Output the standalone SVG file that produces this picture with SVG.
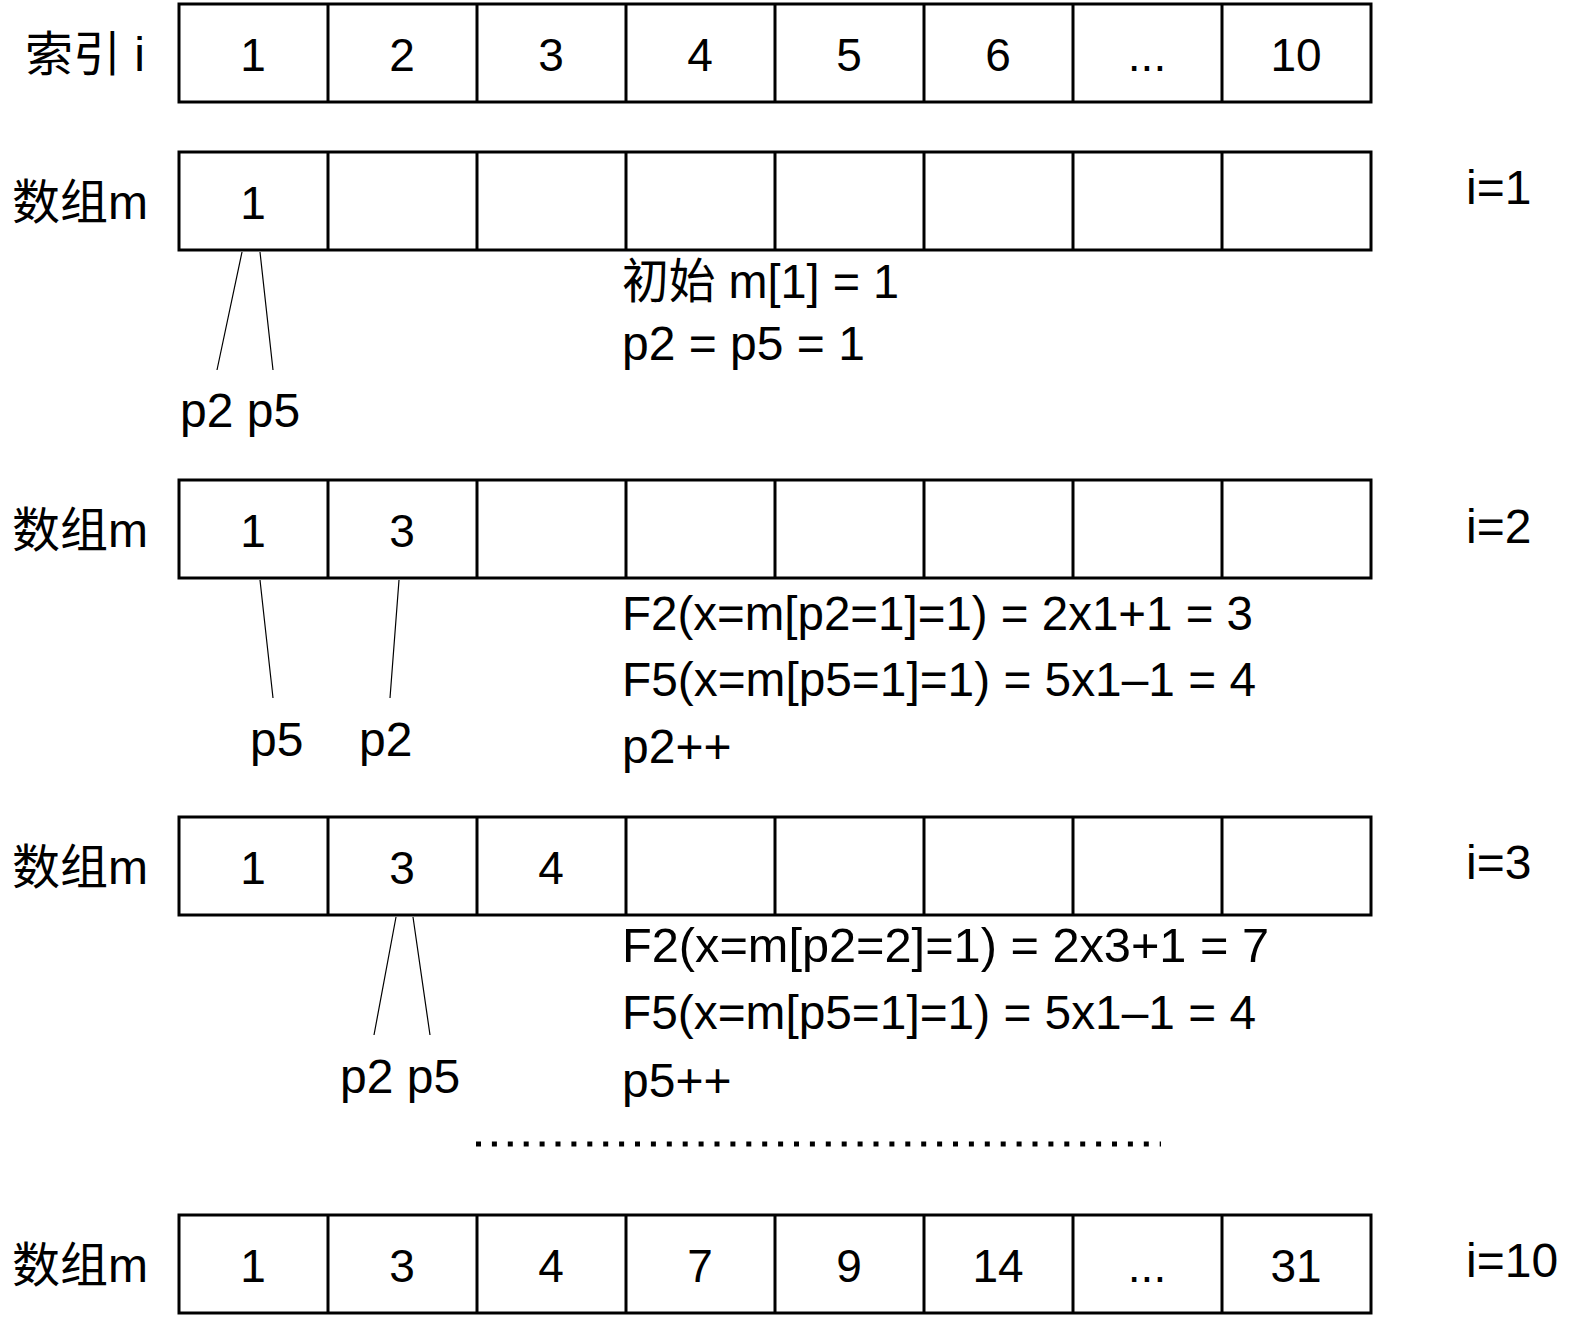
<svg xmlns="http://www.w3.org/2000/svg" width="1579" height="1325" viewBox="0 0 1579 1325">
<style>
.t{font-family:"Liberation Sans","Noto Sans CJK SC",Arial,sans-serif;font-size:48px;fill:#000}
.n{font-family:"Liberation Sans",Arial,sans-serif;font-size:46px;fill:#000;text-anchor:middle}
.box{fill:#fff;stroke:#000;stroke-width:3}
.dv{stroke:#000;stroke-width:3}
.ln{stroke:#000;stroke-width:1.2;fill:none}
</style>
<rect width="1579" height="1325" fill="#fff"/>
<defs>
<g id="row">
<rect class="box" x="179" y="0" width="1192" height="98"/>
<path class="dv" d="M328 0V98M477 0V98M626 0V98M775 0V98M924 0V98M1073 0V98M1222 0V98"/>
</g>
</defs>

<g id="index-row">
<use href="#row" transform="translate(0,4)"/>
<text class="t" x="25" y="71">索引 i</text>
<g class="n">
<text x="253" y="71">1</text><text x="402" y="71">2</text><text x="551" y="71">3</text><text x="700" y="71">4</text>
<text x="849" y="71">5</text><text x="998" y="71">6</text><text x="1147" y="71">...</text><text x="1296" y="71">10</text>
</g>
</g>

<g id="row-i1">
<use href="#row" transform="translate(0,152)"/>
<text class="t" x="12" y="219">数组m</text>
<text class="n" x="253" y="219">1</text>
<text class="t" x="1466" y="204">i=1</text>
<text class="t" x="180" y="427">p2 p5</text>
<text class="t" x="622" y="298" textLength="277" lengthAdjust="spacingAndGlyphs">初始 m[1] = 1</text>
<text class="t" x="622" y="360">p2 = p5 = 1</text>
</g>

<g id="row-i2">
<use href="#row" transform="translate(0,480)"/>
<text class="t" x="12" y="547">数组m</text>
<text class="n" x="253" y="547">1</text>
<text class="n" x="402" y="547">3</text>
<text class="t" x="1466" y="543">i=2</text>
<text class="t" x="250" y="756">p5</text>
<text class="t" x="359" y="756">p2</text>
<text class="t" x="622" y="630" textLength="631" lengthAdjust="spacingAndGlyphs">F2(x=m[p2=1]=1) = 2x1+1 = 3</text>
<text class="t" x="622" y="696" textLength="634" lengthAdjust="spacingAndGlyphs">F5(x=m[p5=1]=1) = 5x1–1 = 4</text>
<text class="t" x="622" y="763">p2++</text>
</g>

<g id="row-i3">
<use href="#row" transform="translate(0,817)"/>
<text class="t" x="12" y="884">数组m</text>
<text class="n" x="253" y="884">1</text>
<text class="n" x="402" y="884">3</text>
<text class="n" x="551" y="884">4</text>
<text class="t" x="1466" y="879">i=3</text>
<text class="t" x="340" y="1093">p2 p5</text>
<text class="t" x="622" y="962" textLength="647" lengthAdjust="spacingAndGlyphs">F2(x=m[p2=2]=1) = 2x3+1 = 7</text>
<text class="t" x="622" y="1029" textLength="634" lengthAdjust="spacingAndGlyphs">F5(x=m[p5=1]=1) = 5x1–1 = 4</text>
<text class="t" x="622" y="1097">p5++</text>
</g>

<g id="row-i10">
<use href="#row" transform="translate(0,1215)"/>
<text class="t" x="12" y="1282">数组m</text>
<g class="n">
<text x="253" y="1282">1</text><text x="402" y="1282">3</text><text x="551" y="1282">4</text><text x="700" y="1282">7</text>
<text x="849" y="1282">9</text><text x="998" y="1282">14</text><text x="1147" y="1282">...</text><text x="1296" y="1282">31</text>
</g>
<text class="t" x="1466" y="1277">i=10</text>
</g>

<g id="ellipsis-line">
<line x1="476" y1="1144" x2="1161" y2="1144" stroke="#000" stroke-width="5" stroke-dasharray="5 10.9"/>
</g>

<g id="connectors">
<path class="ln" d="M242 252L217 370M260 252L273 370"/>
<path class="ln" d="M260 580L273 698M399 580L390 698"/>
<path class="ln" d="M396 917L374 1035M413 917L430 1035"/>
</g>
</svg>
